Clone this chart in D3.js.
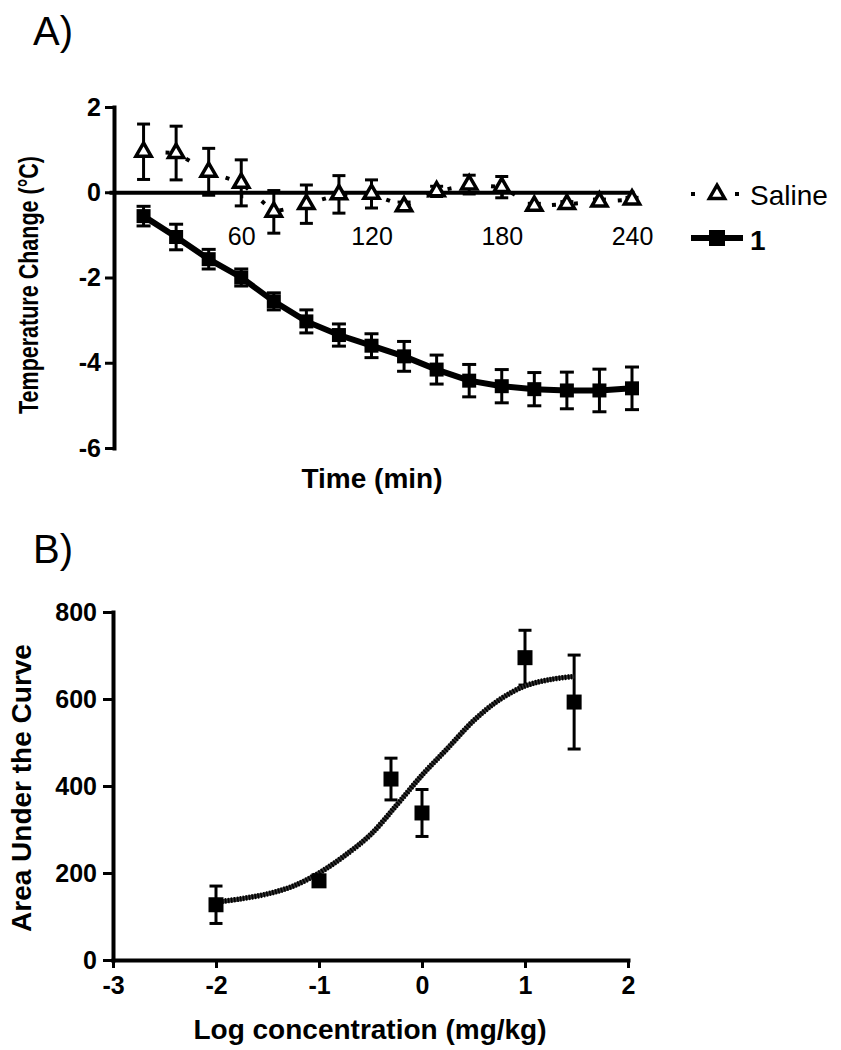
<!DOCTYPE html>
<meta charset="utf-8">
<style>
    body { margin: 0; background: #fff; }
    svg text { font-family: "Liberation Sans", Arial, Helvetica, sans-serif; fill: #000; }
</style>
<svg id="chart" width="841" height="1050"></svg>
<script src="https://d3js.org/d3.v7.min.js"></script>
<script>
    // Panel A: temperature change over time
    var times = [15, 30, 45, 60, 75, 90, 105, 120, 135, 150, 165, 180, 195, 210, 225, 240];
    var salineMean = [0.95, 0.92, 0.48, 0.22, -0.46, -0.28, -0.05, -0.04, -0.33, 0.02, 0.18, 0.12, -0.32, -0.28, -0.22, -0.17];
    var salineSem = [0.65, 0.63, 0.55, 0.54, 0.5, 0.45, 0.44, 0.33, 0.1, 0.12, 0.22, 0.25, 0.06, 0.06, 0.06, 0.05];
    var drugMean = [-0.56, -1.05, -1.57, -2.0, -2.56, -3.03, -3.35, -3.6, -3.85, -4.16, -4.42, -4.55, -4.62, -4.65, -4.65, -4.6];
    var drugSem = [0.23, 0.3, 0.23, 0.2, 0.2, 0.27, 0.26, 0.28, 0.35, 0.34, 0.38, 0.39, 0.39, 0.43, 0.5, 0.5];
    var timeTicks = [60, 120, 180, 240];
    var tempTicks = [-6, -4, -2, 0, 2];

    // Panel B: dose response
    var logDose = [-2, -1, -0.301, 0, 1, 1.477];
    var aucMean = [127, 182, 416, 338, 695, 593];
    var aucSem = [43, 6, 48, 54, 63, 108];
    var fitX = [-2, -1.75, -1.5, -1.25, -1, -0.75, -0.5, -0.25, 0, 0.25, 0.5, 0.75, 1, 1.25, 1.48];
    var fitY = [133, 141, 152, 170, 200, 240, 288, 355, 425, 487, 550, 598, 630, 645, 652];
    var doseTicks = [-3, -2, -1, 0, 1, 2];
    var aucTicks = [0, 200, 400, 600, 800];

    var svg = d3.select("#chart");
    svg.append("rect").attr("width", 841).attr("height", 1050).attr("fill", "#fff");

    var plain = function (d) { return String(d); };

    function styleAxis(g, size, weight) {
        g.attr("font-size", size).attr("font-weight", weight);
        g.select(".domain").attr("stroke-width", 4).attr("stroke-linecap", "square");
        g.selectAll(".tick line").attr("stroke-width", 3);
    }

    function errorBars(g, xs, ys, sems, xScale, yScale, capW) {
        xs.forEach(function (x, i) {
            var cx = xScale(x);
            var y1 = yScale(ys[i] + sems[i]);
            var y2 = yScale(ys[i] - sems[i]);
            g.append("line").attr("x1", cx).attr("x2", cx).attr("y1", y1).attr("y2", y2);
            g.append("line").attr("x1", cx - capW / 2).attr("x2", cx + capW / 2).attr("y1", y1).attr("y2", y1);
            g.append("line").attr("x1", cx - capW / 2).attr("x2", cx + capW / 2).attr("y1", y2).attr("y2", y2);
        });
        g.attr("stroke", "#000").attr("stroke-width", 3);
    }

    var tri = d3.symbol().type(d3.symbolTriangle).size(100);

    // ---------- Panel A ----------
    var xA = d3.scaleLinear().domain([0, 240]).range([111, 632]);
    var yA = d3.scaleLinear().domain([-6, 2]).range([448, 107]);

    svg.append("text").attr("x", 33).attr("y", 45).attr("font-size", 40).text("A)");

    var ga = svg.append("g");
    ga.append("g")
        .attr("transform", "translate(0," + yA(0) + ")")
        .call(d3.axisBottom(xA).tickValues(timeTicks).tickFormat(plain).tickSize(6).tickSizeOuter(0).tickPadding(29))
        .call(styleAxis, 25, "normal");
    ga.append("g")
        .attr("transform", "translate(114,0)")
        .call(d3.axisLeft(yA).tickValues(tempTicks).tickFormat(plain).tickSize(9).tickSizeOuter(0).tickPadding(4))
        .call(styleAxis, 25, "bold");

    // saline: dotted line, open triangles
    ga.append("path")
        .datum(times)
        .attr("fill", "none").attr("stroke", "#000").attr("stroke-width", 4)
        .attr("stroke-dasharray", "4,18")
        .attr("d", d3.line().x(function (d) { return xA(d); }).y(function (d, i) { return yA(salineMean[i]); }));
    errorBars(ga.append("g"), times, salineMean, salineSem, xA, yA, 13);
    ga.append("g").selectAll("path").data(times).join("path")
        .attr("d", tri)
        .attr("transform", function (d, i) { return "translate(" + xA(d) + "," + yA(salineMean[i]) + ")"; })
        .attr("fill", "#fff").attr("stroke", "#000").attr("stroke-width", 3.5);

    // compound 1: solid line, filled squares
    ga.append("path")
        .datum(times)
        .attr("fill", "none").attr("stroke", "#000").attr("stroke-width", 6)
        .attr("d", d3.line().x(function (d) { return xA(d); }).y(function (d, i) { return yA(drugMean[i]); }));
    errorBars(ga.append("g"), times, drugMean, drugSem, xA, yA, 14);
    ga.append("g").selectAll("rect").data(times).join("rect")
        .attr("x", function (d) { return xA(d) - 7; })
        .attr("y", function (d, i) { return yA(drugMean[i]) - 7; })
        .attr("width", 14).attr("height", 14).attr("fill", "#000");

    ga.append("text")
        .attr("transform", "translate(38,285) rotate(-90)")
        .attr("text-anchor", "middle").attr("font-size", 27).attr("font-weight", "bold")
        .attr("textLength", 258).attr("lengthAdjust", "spacingAndGlyphs")
        .text("Temperature Change (°C)");
    ga.append("text")
        .attr("x", 372).attr("y", 488)
        .attr("text-anchor", "middle").attr("font-size", 28).attr("font-weight", "bold")
        .text("Time (min)");

    // legend
    var lg = svg.append("g");
    lg.append("line").attr("x1", 691).attr("x2", 743).attr("y1", 194).attr("y2", 194)
        .attr("stroke", "#000").attr("stroke-width", 4).attr("stroke-dasharray", "4,18");
    lg.append("path").attr("d", tri).attr("transform", "translate(717,194)")
        .attr("fill", "#fff").attr("stroke", "#000").attr("stroke-width", 3.5);
    lg.append("text").attr("x", 750).attr("y", 205).attr("font-size", 28).text("Saline");
    lg.append("line").attr("x1", 691).attr("x2", 743).attr("y1", 238).attr("y2", 238)
        .attr("stroke", "#000").attr("stroke-width", 6);
    lg.append("rect").attr("x", 709).attr("y", 230).attr("width", 16).attr("height", 16).attr("fill", "#000");
    lg.append("text").attr("x", 750).attr("y", 250).attr("font-size", 28).attr("font-weight", "bold").text("1");

    // ---------- Panel B ----------
    var xB = d3.scaleLinear().domain([-3, 2]).range([113, 628]);
    var yB = d3.scaleLinear().domain([0, 800]).range([960, 612]);

    svg.append("text").attr("x", 33).attr("y", 563).attr("font-size", 40).text("B)");

    var gb = svg.append("g");
    gb.append("g")
        .attr("transform", "translate(0,960)")
        .call(d3.axisBottom(xB).tickValues(doseTicks).tickFormat(plain).tickSize(8).tickSizeOuter(0).tickPadding(8))
        .call(styleAxis, 25, "bold");
    gb.append("g")
        .attr("transform", "translate(113,0)")
        .call(d3.axisLeft(yB).tickValues(aucTicks).tickFormat(plain).tickSize(10).tickSizeOuter(0).tickPadding(6))
        .call(styleAxis, 25, "bold");

    errorBars(gb.append("g"), logDose, aucMean, aucSem, xB, yB, 13);

    var fitLine = d3.line()
        .x(function (d) { return xB(d); })
        .y(function (d, i) { return yB(fitY[i]); })
        .curve(d3.curveCatmullRom);
    gb.append("path").datum(fitX)
        .attr("fill", "none").attr("stroke", "#333").attr("stroke-width", 4.5)
        .attr("d", fitLine);
    gb.append("path").datum(fitX)
        .attr("fill", "none").attr("stroke", "#000").attr("stroke-width", 5.5)
        .attr("stroke-dasharray", "1.5,1.5")
        .attr("d", fitLine);

    gb.append("g").selectAll("rect").data(logDose).join("rect")
        .attr("x", function (d) { return xB(d) - 7.5; })
        .attr("y", function (d, i) { return yB(aucMean[i]) - 7.5; })
        .attr("width", 15).attr("height", 15).attr("fill", "#000");

    gb.append("text")
        .attr("transform", "translate(31,788) rotate(-90)")
        .attr("text-anchor", "middle").attr("font-size", 28).attr("font-weight", "bold")
        .text("Area Under the Curve");
    gb.append("text")
        .attr("x", 370).attr("y", 1039)
        .attr("text-anchor", "middle").attr("font-size", 28).attr("font-weight", "bold")
        .text("Log concentration (mg/kg)");
</script>
